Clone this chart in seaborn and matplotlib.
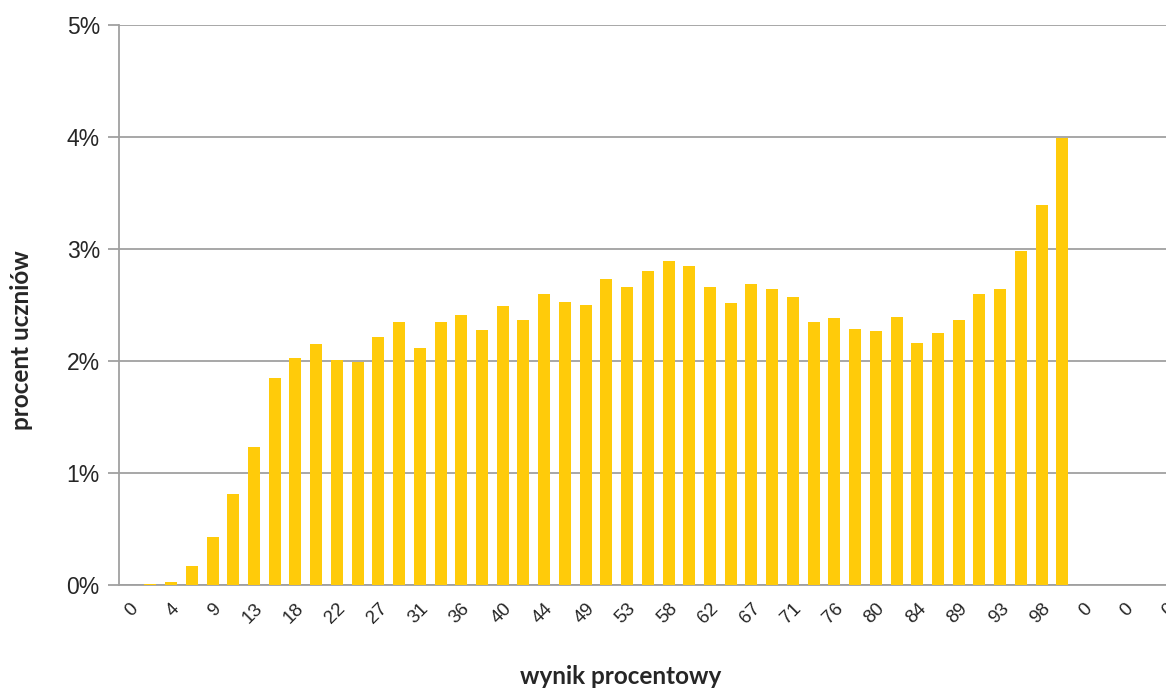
import numpy as np
import pandas as pd
import seaborn as sns
from matplotlib import pyplot as plt
from matplotlib.ticker import FuncFormatter

# percentage of students per score bin (46 bins, then 5 empty bins)
procent = [0.00, 0.01, 0.03, 0.17, 0.43, 0.81, 1.23, 1.85, 2.03, 2.15,
           2.01, 1.99, 2.21, 2.35, 2.12, 2.35, 2.41, 2.28, 2.49, 2.37,
           2.60, 2.53, 2.50, 2.73, 2.66, 2.80, 2.89, 2.85, 2.66, 2.52,
           2.69, 2.64, 2.57, 2.35, 2.38, 2.29, 2.27, 2.39, 2.16, 2.25,
           2.37, 2.60, 2.64, 2.98, 3.39, 3.99,
           0.0, 0.0, 0.0, 0.0, 0.0]
etykiety = ['0', '4', '9', '13', '18', '22', '27', '31', '36', '40', '44',
            '49', '53', '58', '62', '67', '71', '76', '80', '84', '89', '93',
            '98', '0', '0', '0']
yticks = [0, 1, 2, 3, 4, 5]

df = pd.DataFrame({'kat': np.arange(len(procent)), 'procent': procent})

sns.set_style('white')
plt.rcParams['font.family'] = ['Liberation Sans', 'DejaVu Sans']

f = plt.figure(figsize=(11.66, 6.91), dpi=100)
ax = f.add_axes([119.3/1166, 1-585/691, 1-119.3/1166, (585-25)/691])

sns.barplot(data=df, x='kat', y='procent', color='#FFCB0A', saturation=1,
            width=0.58, linewidth=0, ax=ax, zorder=3)

ax.set_xlim(-0.5, 50.0)
ax.set_ylim(0, 5)
ax.set_yticks(yticks)
ax.yaxis.set_major_formatter(FuncFormatter(lambda v, p: f'{v:.0f}%'))
ax.grid(axis='y', color='#A0A0A0', linewidth=1.3, zorder=0)
ax.set_axisbelow(True)

ax.set_xticks(np.arange(0, len(procent), 2))
ax.set_xticklabels(etykiety, rotation=45, ha='right', va='top',
                   rotation_mode='anchor', fontsize=13.5)
ax.tick_params(axis='x', length=0, pad=11)
ax.tick_params(axis='y', length=8, width=1.3, color='#A0A0A0',
               labelsize=16.5, pad=6, direction='out', left=True)
for side in ['top', 'right']:
    ax.spines[side].set_visible(False)
for side in ['left', 'bottom']:
    ax.spines[side].set_color('#A0A0A0')
    ax.spines[side].set_linewidth(1.3)

ax.set_xlabel('')
ax.set_ylabel('')
f.text(621/1166, 1-677/691, 'wynik procentowy', fontsize=17.5, fontweight='bold',
       family='Lato', ha='center', va='center')
f.text(22/1166, 1-340/691, 'procent uczniów', fontsize=17.5, fontweight='bold',
       family='Lato', ha='center', va='center', rotation=90)

f.savefig('out.png', dpi=100)
